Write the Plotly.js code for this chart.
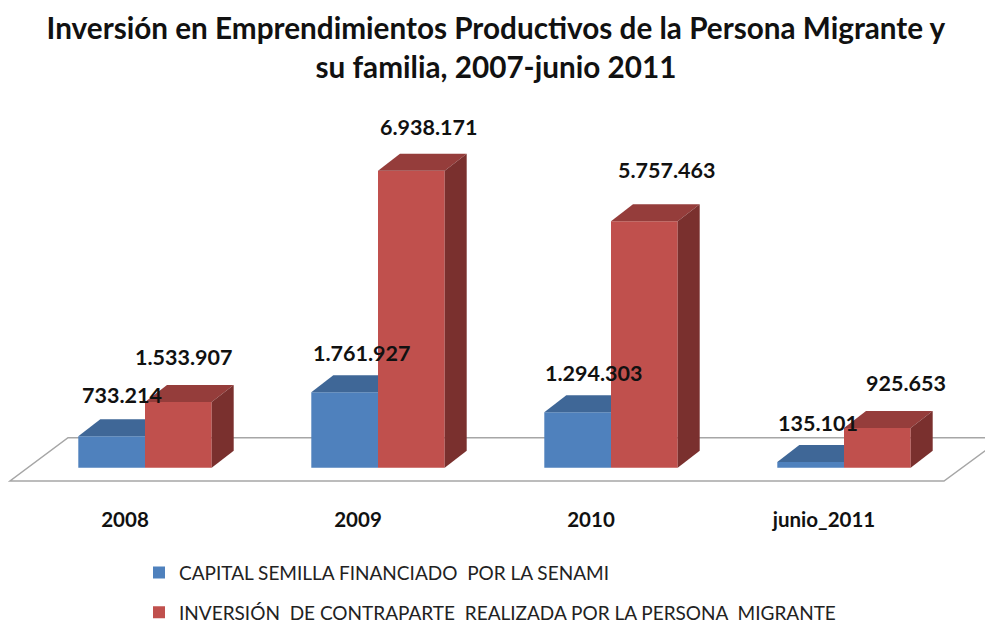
<!DOCTYPE html>
<html>
<head>
<meta charset="utf-8">
<script src="https://cdn.plot.ly/plotly-3.0.1.min.js"></script>
<style>html,body{margin:0;padding:0;background:#fff}#chart{width:985px;height:625px}</style>
</head>
<body>
<div id="chart"></div>
<script>
// ---- data ----
const categories = ['2008', '2009', '2010', 'junio_2011'];
const seriesNames = ['CAPITAL SEMILLA FINANCIADO  POR LA SENAMI',
                     'INVERSIÓN  DE CONTRAPARTE  REALIZADA POR LA PERSONA  MIGRANTE'];
const capitalSemilla = [733214, 1761927, 1294303, 135101];
const inversionContraparte = [1533907, 6938171, 5757463, 925653];

// ---- styling ----
const FONT = 'Lato, Carlito, "Open Sans", sans-serif';
const BLUE = '#4F81BD', BLUE_TOP = '#3F6797';
const RED = '#C0504D', RED_TOP = '#953D3B', RED_SIDE = '#7A302E';
const GROUP_PX = 233, UNITS_PER_PX = 23361;
const BAR_W = 66.7 / GROUP_PX;          // one bar, in category units
const DX = 22 / GROUP_PX;               // oblique depth, horizontally
const DY = 17 * UNITS_PER_PX;           // oblique depth, vertically
const idx = categories.map((_, i) => i);

function poly(xs, ys, color) {
  return {type: 'scatter', mode: 'lines', x: xs, y: ys, fill: 'toself', fillcolor: color,
          line: {width: 0, color: color}, hoverinfo: 'skip', showlegend: false};
}
const faces = [];
// blue tops stop at the left edge of the red bar that hides them
capitalSemilla.forEach((v, i) => {
  const l = i - BAR_W;
  faces.push(poly([l, l + DX, i, i, l], [v, v + DY, v + DY, v, v], BLUE_TOP));
});
inversionContraparte.forEach((v, i) => {
  const r = i + BAR_W;
  faces.push(poly([i, i + DX, r + DX, r, i], [v, v + DY, v + DY, v, v], RED_TOP));
  faces.push(poly([r, r + DX, r + DX, r, r], [0, DY, v + DY, v, 0], RED_SIDE));
});

const traces = [
  {type: 'bar', name: seriesNames[0], x: idx, y: capitalSemilla, marker: {color: BLUE}, legendgroup: 'a', hoverinfo: 'x+y'},
  {type: 'bar', name: seriesNames[1], x: idx, y: inversionContraparte, marker: {color: RED}, legendgroup: 'b', hoverinfo: 'x+y'}
].concat(faces);

// value labels: number format of the original (dots as thousands separators)
const fmt = v => String(v).replace(/\B(?=(\d{3})+(?!\d))/g, '.');
const blueShift = [[10, 41], [17, 39], [16, 39], [7, 39]];
const redShift = [[6, 45], [18, 44], [23, 51], [29, 45]];
const annotations = [];
function addLabels(vals, center, shifts) {
  vals.forEach((v, i) => annotations.push({
    x: i + center, y: v, xref: 'x', yref: 'y', text: fmt(v), showarrow: false,
    xanchor: 'center', yanchor: 'middle', xshift: shifts[i][0], yshift: shifts[i][1],
    font: {family: FONT, size: 21.5, color: '#111', weight: 'bold'}
  }));
}
addLabels(capitalSemilla, -BAR_W / 2, blueShift);
addLabels(inversionContraparte, BAR_W / 2, redShift);

const X = px => (px - 145) / GROUP_PX;
const Y = py => (467.7 - py) * UNITS_PER_PX;
const floorPath = `M${X(10)},${Y(481)} L${X(944)},${Y(481)} L${X(1003)},${Y(437.7)} L${X(68)},${Y(437.7)} Z`;

const layout = {
  width: 985, height: 625,
  paper_bgcolor: '#fff', plot_bgcolor: '#fff',
  margin: {l: 0, r: 0, t: 100, b: 120, pad: 0, autoexpand: false},
  title: {text: 'Inversión en Emprendimientos Productivos de la Persona Migrante y<br>su familia, 2007-junio 2011',
          font: {family: FONT, size: 29.7, color: '#111', weight: 'bold'},
          x: 0.5035, xanchor: 'center', y: 0.937, yanchor: 'top', yref: 'container'},
  barmode: 'group', bargap: 1 - 2 * BAR_W, bargroupgap: 0,
  xaxis: {range: [X(0), X(985)], tickvals: idx.map(i => i - 20 / GROUP_PX), ticktext: categories,
          showgrid: false, zeroline: false, showline: false, ticks: '',
          tickfont: {family: FONT, size: 20.5, color: '#111', weight: 'bold'}, fixedrange: true},
  yaxis: {range: [Y(505), Y(100)], visible: false, showgrid: false, zeroline: false, fixedrange: true},
  shapes: [{type: 'path', path: floorPath, xref: 'x', yref: 'y', layer: 'below',
            fillcolor: '#fff', line: {color: '#A6A6A6', width: 1.5}}],
  annotations: annotations,
  showlegend: true,
  legend: {x: 139 / 985, xanchor: 'left', y: -0.12, yanchor: 'top', orientation: 'v',
           traceorder: 'grouped', tracegroupgap: 12, bgcolor: 'rgba(0,0,0,0)',
           font: {family: FONT, size: 19, color: '#222'}}
};
Plotly.newPlot('chart', traces, layout, {displayModeBar: false, staticPlot: true});
</script>
</body>
</html>
